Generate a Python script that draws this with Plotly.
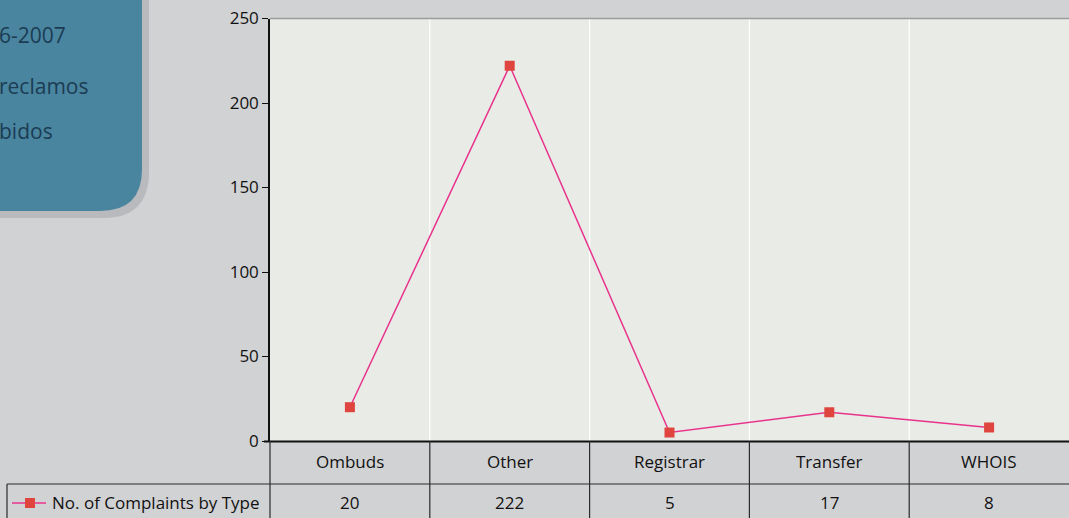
import plotly.graph_objects as go

categories = ["Ombuds", "Other", "Registrar", "Transfer", "WHOIS"]
complaints = [20, 222, 5, 17, 8]
series_name = "No. of Complaints by Type"
y_ticks = [0, 50, 100, 150, 200, 250]
box_lines = ["6-2007", "reclamos", "bidos"]

W, H = 1069, 518
def px(x):
    return x / W
def py(y):
    return 1 - y / H

FONT = "Open Sans"
PINK = "#e8338c"
RED = "#e0443e"
LINE = "#2b2b2b"

fig = go.Figure()
fig.add_trace(go.Scatter(
    x=categories, y=complaints, mode="lines+markers",
    line=dict(color=PINK, width=1.5),
    marker=dict(symbol="square", size=10, color=RED, line=dict(width=0)),
    name=series_name, showlegend=False, hoverinfo="x+y",
))

shapes = []
for i in range(len(categories) - 1):
    shapes.append(dict(type="line", xref="x", yref="paper", x0=i + 0.5, x1=i + 0.5,
                       y0=py(441), y1=py(18), line=dict(color="white", width=1.2), layer="below"))
shapes.append(dict(type="line", xref="paper", yref="paper", x0=px(270), x1=1, y0=py(18.5), y1=py(18.5),
                   line=dict(color="#9a9b9d", width=1.5)))
shapes.append(dict(type="line", xref="paper", yref="paper", x0=px(264), x1=1, y0=py(441.5), y1=py(441.5),
                   line=dict(color="#111", width=1.8)))
shapes.append(dict(type="line", xref="paper", yref="paper", x0=px(7), x1=1, y0=py(484), y1=py(484),
                   line=dict(color=LINE, width=1.2)))
shapes.append(dict(type="line", xref="paper", yref="paper", x0=px(7), x1=px(7), y0=py(484), y1=0,
                   line=dict(color=LINE, width=1.2)))
shapes.append(dict(type="line", xref="paper", yref="paper", x0=px(270), x1=px(270), y0=py(441), y1=0,
                   line=dict(color=LINE, width=1.2)))
for i in range(len(categories) - 1):
    shapes.append(dict(type="line", xref="x", yref="paper", x0=i + 0.5, x1=i + 0.5,
                       y0=py(441), y1=0, line=dict(color=LINE, width=1.2)))
shapes.append(dict(type="line", xref="paper", yref="paper", x0=px(12), x1=px(46), y0=py(503), y1=py(503),
                   line=dict(color=PINK, width=1.5)))
shapes.append(dict(type="rect", xref="paper", yref="paper", x0=px(25), x1=px(35), y0=py(508), y1=py(498),
                   fillcolor=RED, line=dict(width=0)))

def rrect(x0, y0, x1, y1, r):
    return (f"M {px(x0)},{py(y0)} L {px(x1 - r)},{py(y0)} Q {px(x1)},{py(y0)} {px(x1)},{py(y0 + r)} "
            f"L {px(x1)},{py(y1 - r)} Q {px(x1)},{py(y1)} {px(x1 - r)},{py(y1)} "
            f"L {px(x0)},{py(y1)} Z")
shapes.append(dict(type="path", xref="paper", yref="paper", path=rrect(-60, -60, 149, 218, 46),
                   fillcolor="#b9babd", line=dict(width=0)))
shapes.append(dict(type="path", xref="paper", yref="paper", path=rrect(-60, -60, 142, 211, 42),
                   fillcolor="#4a85a0", line=dict(width=0)))

annotations = []
for cat, v in zip(categories, complaints):
    annotations.append(dict(x=cat, xref="x", y=py(461), yref="paper", text=cat, showarrow=False,
                            xanchor="center", yanchor="middle", font=dict(family=FONT, size=17, color="#111")))
    annotations.append(dict(x=cat, xref="x", y=py(502), yref="paper", text=str(v), showarrow=False,
                            xanchor="center", yanchor="middle", font=dict(family=FONT, size=17, color="#111")))
annotations.append(dict(x=px(50), xref="paper", y=py(502), yref="paper", text=series_name, showarrow=False,
                        xanchor="left", yanchor="middle", font=dict(family=FONT, size=17, color="#111")))
for t, yy in zip(box_lines, [35, 86, 131]):
    annotations.append(dict(x=0, xref="paper", y=py(yy), yref="paper", text=t, showarrow=False,
                            xanchor="left", yanchor="middle", xshift=-3,
                            font=dict(family=FONT, size=21, color="#1b3c53")))

fig.update_layout(
    width=W, height=H,
    margin=dict(l=0, r=0, t=0, b=0, pad=0),
    paper_bgcolor="#d1d2d4",
    plot_bgcolor="#e9ebe7",
    font=dict(family=FONT, color="#111"),
    showlegend=False,
    xaxis=dict(domain=[px(270), 1], type="category", range=[-0.5, 4.5], showticklabels=False,
               showgrid=False, zeroline=False, showline=False, ticks="", automargin=False),
    yaxis=dict(domain=[py(441), py(18.5)], range=[0, 250], tickvals=y_ticks, showgrid=False,
               zeroline=False, showline=True, linecolor="#111", linewidth=1.5,
               ticks="outside", ticklen=6, tickcolor="#111", tickwidth=1.2, automargin=False,
               tickfont=dict(family=FONT, size=17, color="#111")),
    shapes=shapes,
    annotations=annotations,
)

fig.write_html("out.html")
